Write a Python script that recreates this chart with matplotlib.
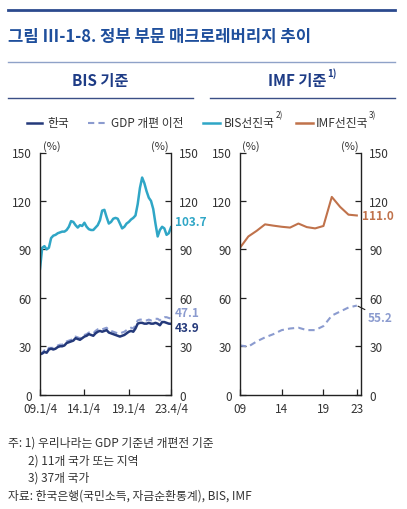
import matplotlib
matplotlib.use("Agg")
import matplotlib.pyplot as plt
from matplotlib.lines import Line2D

plt.rcParams['font.family'] = ['Noto Sans CJK KR', 'DejaVu Sans']

# ---------------- data ----------------
quarters_ticks = [0, 20, 40, 59]
quarters_ticklabels = ["09.1/4", "14.1/4", "19.1/4", "23.4/4"]

korea_bis = [25, 25.5, 26.5, 26, 28, 28.5, 28, 28.5, 29.5, 30,
             30, 30.5, 32, 32.5, 33, 33.5, 35, 34.5, 34, 35,
             36, 36.5, 37.5, 37, 36.5, 38, 39, 39.5, 39, 39.5,
             40, 38.5, 38, 37.5, 37, 36.5, 36, 36.5, 37, 38,
             39, 39.5, 39, 41, 44, 44.5, 44.5, 44, 44, 44.5,
             44, 44, 44.5, 44, 43, 45, 45, 44.5, 44, 43.9]
korea_old_bis = [25.5, 26, 27.5, 27, 29, 29, 29, 29.5, 30.5, 31,
                 31, 31.5, 33, 33.5, 34, 34.5, 36, 35.5, 35, 36,
                 37, 37.5, 38.5, 38.5, 38, 39.5, 40.5, 41, 40.5, 41,
                 41.5, 40, 39.5, 39, 38.5, 38, 38, 38.5, 39, 40,
                 41, 41.5, 41, 43, 46, 46.5, 46.5, 46, 46, 46.5,
                 46, 46.5, 47, 47, 46, 47.5, 48, 48, 47.5, 47.1]
bis_adv = [78, 91, 92, 90, 91, 97, 98.5, 99, 100, 100.5,
           101, 101, 102, 104, 107.5, 107, 105, 103.5, 105, 104.5,
           106.5, 104, 102.5, 102, 102, 103.5, 105, 108, 114, 114.5,
           110, 106, 107, 109, 109.5, 109, 106, 103, 104, 106,
           107, 108.5, 109.5, 111, 118, 128, 134.5, 131, 126, 122,
           120, 115, 106, 98, 102, 104, 103, 99, 100, 103.7]

years = [2009, 2010, 2011, 2012, 2013, 2014, 2015, 2016, 2017, 2018,
         2019, 2020, 2021, 2022, 2023]
year_ticks = [2009, 2014, 2019, 2023]
year_ticklabels = ["09", "14", "19", "23"]
korea_imf = [30.5, 29.8, 33, 35.5, 37.5, 40, 41, 41.5, 40, 40,
             42.5, 49, 51.5, 54, 55.2]
imf_adv = [91, 98, 101.5, 105.5, 104.7, 104, 103.5, 106, 103.8, 103,
           104.5, 122.5, 116.3, 111.5, 111.0]

y_ticks = [0, 30, 60, 90, 120, 150]

# ---------------- style ----------------
C_KOR = "#24397a"
C_OLD = "#8b9bcf"
C_BIS = "#2fa6c6"
C_IMF = "#c0724b"
C_TXT = "#333333"
C_HEAD = "#1f4f9c"
C_SUB = "#1e3c86"

W, H = 407, 510
fig = plt.figure(figsize=(W / 100, H / 100), dpi=100)


def fx(x):
    return x / W


def fy(y):
    return 1 - y / H


def ft(x, y, s, **kw):
    return fig.text(fx(x), fy(y), s, **kw)


def fline(x0, x1, y0, y1, **kw):
    fig.add_artist(Line2D([fx(x0), fx(x1)], [fy(y0), fy(y1)],
                          transform=fig.transFigure, **kw))


# header
fline(8, 395, 11, 11, color="#2b4a8e", lw=2.0)
ft(8, 37, "그림 Ⅲ-1-8. 정부 부문 매크로레버리지 추이", fontsize=12,
   fontweight="bold", color=C_HEAD, va="center", ha="left")
fline(8, 395, 62.5, 62.5, color="#8fa2c8", lw=1.0)
ft(100, 81, "BIS 기준", fontsize=11, fontweight="bold", color=C_SUB,
   va="center", ha="center")
t_imf = ft(297, 81, "IMF 기준", fontsize=11, fontweight="bold", color=C_SUB,
           va="center", ha="center")
fline(8, 193, 98.5, 98.5, color="#3b4f86", lw=1.0)
fline(210, 395, 98.5, 98.5, color="#3b4f86", lw=1.0)

fig.canvas.draw()
renderer = fig.canvas.get_renderer()


def right_px(t):
    bb = t.get_window_extent(renderer)
    return bb.x1


ft(right_px(t_imf) + 1, 74, "1)", fontsize=7, fontweight="bold", color=C_SUB,
   va="center", ha="left")

# legend
LY = 124
LFS = 8.5
fline(27, 42, LY, LY, color=C_KOR, lw=1.8)
ft(47, LY, "한국", fontsize=LFS, color=C_TXT, va="center", ha="left")
fline(88, 107, LY, LY, color=C_OLD, lw=1.5, dashes=(3, 2))
ft(111, LY, "GDP 개편 이전", fontsize=LFS, color=C_TXT, va="center", ha="left")
fline(203, 220, LY, LY, color=C_BIS, lw=1.8)
t_b = ft(224, LY, "BIS선진국", fontsize=LFS, color=C_TXT, va="center", ha="left")
fline(296, 313, LY, LY, color=C_IMF, lw=1.8)
t_i = ft(316, LY, "IMF선진국", fontsize=LFS, color=C_TXT, va="center", ha="left")
fig.canvas.draw()
ft(right_px(t_b) + 0.5, 116, "2)", fontsize=6, color=C_TXT, va="center", ha="left")
ft(right_px(t_i) + 0.5, 116, "3)", fontsize=6, color=C_TXT, va="center", ha="left")

# axes
y_top, y_bot = 153.5, 395.7
axL = fig.add_axes([fx(40), fy(y_bot), (171 - 40) / W, (y_bot - y_top) / H])
axR = fig.add_axes([fx(240), fy(y_bot), (361 - 240) / W, (y_bot - y_top) / H])

TFS = 8.5
for ax in (axL, axR):
    ax.set_ylim(0, 150)
    ax.set_yticks(y_ticks)
    ax.spines['top'].set_visible(False)
    for s in ('left', 'right', 'bottom'):
        ax.spines[s].set_color("#222222")
        ax.spines[s].set_linewidth(1.0)
    ax.tick_params(axis='both', direction='in', length=4, width=0.9,
                   colors="#222222", labelcolor=C_TXT, labelsize=TFS)
    ax.tick_params(axis='y', which='both', right=True, labelright=True)
    ax.tick_params(axis='y', which='both', pad=6.0)
    for lab in ax.get_yticklabels():
        pass
    ax.tick_params(axis='x', pad=5.5)
    ax.set_facecolor("none")

for ax in (axL, axR):
    # right labels pad slightly larger
    for t in ax.yaxis.get_major_ticks():
        t.set_pad(6.0)
    ax.yaxis.set_tick_params(which='major', pad=6.0)

# separate pads for right labels
for ax in (axL, axR):
    for t in ax.yaxis.get_major_ticks():
        t.label2.set_x(1.0)

xq = list(range(len(bis_adv)))
axL.plot(xq, bis_adv, color=C_BIS, lw=1.8, solid_joinstyle='round')
axL.plot(xq, korea_old_bis, color=C_OLD, lw=1.5, dashes=(3, 2))
axL.plot(xq, korea_bis, color=C_KOR, lw=1.8, solid_joinstyle='round')
axL.set_xlim(0, 59)
axL.set_xticks(quarters_ticks)
axL.set_xticklabels(quarters_ticklabels)

axR.plot(years, imf_adv, color=C_IMF, lw=1.5)
axR.plot(years, korea_imf, color=C_OLD, lw=1.5, dashes=(3, 2))
axR.set_xlim(2009, 2023.5)
axR.set_xticks(year_ticks)
axR.set_xticklabels(year_ticklabels)

# (%) unit labels
for ax in (axL, axR):
    ax.text(0.02, 1.005, "(%)", transform=ax.transAxes, fontsize=8,
            color=C_TXT, ha='left', va='bottom')
    ax.text(0.98, 1.005, "(%)", transform=ax.transAxes, fontsize=8,
            color=C_TXT, ha='right', va='bottom')

# end value labels
VFS = 8.5
axL.text(60.8, 107, f"{bis_adv[-1]:.1f}", color=C_BIS, fontsize=VFS,
         fontweight='bold', ha='left', va='center', clip_on=False)
axL.text(60.8, 51, f"{korea_old_bis[-1]:.1f}", color=C_OLD, fontsize=VFS,
         fontweight='bold', ha='left', va='center', clip_on=False)
axL.text(60.8, 41.7, f"{korea_bis[-1]:.1f}", color=C_KOR, fontsize=VFS,
         fontweight='bold', ha='left', va='center', clip_on=False)
axR.text(2023.65, 111.2, f"{imf_adv[-1]:.1f}", color=C_IMF, fontsize=VFS,
         fontweight='bold', ha='left', va='center', clip_on=False)
axR.annotate(f"{korea_imf[-1]:.1f}", xy=(years[-1], korea_imf[-1]),
             xytext=(2024.3, 48), color=C_OLD, fontsize=VFS,
             fontweight='bold', ha='left', va='center',
             annotation_clip=False,
             arrowprops=dict(arrowstyle='-', color='#222222', lw=0.8,
                             shrinkA=0, shrinkB=1))

# footnotes
FFS = 8.5
ft(8, 443, "주: 1) 우리나라는 GDP 기준년 개편전 기준", fontsize=FFS, color=C_TXT,
   va='center', ha='left')
ft(28, 461, "2) 11개 국가 또는 지역", fontsize=FFS, color=C_TXT,
   va='center', ha='left')
ft(28, 478.5, "3) 37개 국가", fontsize=FFS, color=C_TXT,
   va='center', ha='left')
ft(8, 496, "자료: 한국은행(국민소득, 자금순환통계), BIS, IMF", fontsize=FFS,
   color=C_TXT, va='center', ha='left')

fig.savefig("out.png", dpi=100)
